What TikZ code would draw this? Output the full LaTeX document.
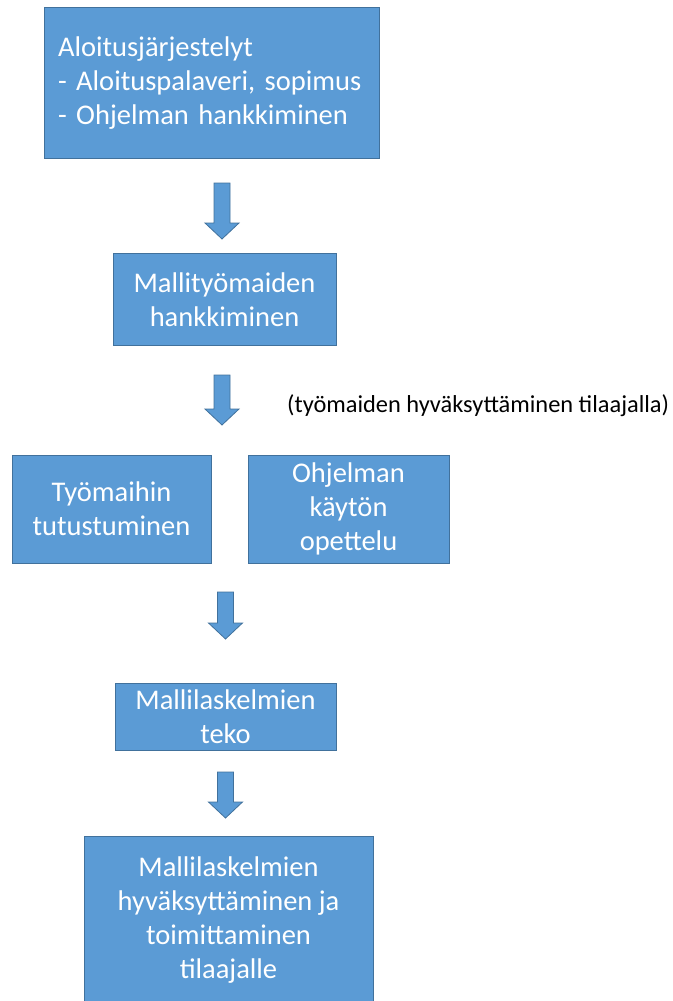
\documentclass[tikz,border=0pt]{standalone}
\usepackage{fontspec}
\setmainfont{Carlito}
\definecolor{boxfill}{HTML}{5B9BD5}
\definecolor{boxline}{HTML}{41719C}
\begin{document}
\begin{tikzpicture}[x=1pt,y=-1pt,
  box/.style={draw=boxline,line width=1pt,fill=boxfill,text=white,inner sep=0pt,
    font=\fontsize{28.5}{34}\selectfont,align=center},
  arrowshape/.style={draw=boxline,line width=0.8pt,fill=boxfill,line join=miter},
  downarr/.pic={
    \path[arrowshape] (-8,0) -- (8,0) -- (8,#1-16) -- (17,#1-16) -- (0,#1)
      -- (-17,#1-16) -- (-8,#1-16) -- cycle;
  }]
\useasboundingbox (0,0) rectangle (672,1001);
\clip (0,0) rectangle (672,1001);
\node[box,minimum width=335pt,minimum height=151pt,text width=307pt,align=left]
  (b1) at (211.5,83) {Aloitusjärjestelyt\\- Aloituspalaveri, sopimus\\- Ohjelman hankkiminen};
\pic (a1) at (222,183) {downarr=56};
\node[box,minimum width=223pt,minimum height=92pt] (b2) at (224.5,299.5) {Mallityömaiden\\hankkiminen};
\pic (a2) at (222,375) {downarr=50};
\node[font=\fontsize{24.4}{28}\selectfont,anchor=west,inner sep=0pt] (note) at (287,406) {(työmaiden hyväksyttäminen tilaajalla)};
\node[box,minimum width=199pt,minimum height=108pt] (b3a) at (111.5,509) {Työmaihin\\tutustuminen};
\node[box,minimum width=201pt,minimum height=108pt] (b3b) at (348.5,509) {Ohjelman\\käytön\\opettelu};
\pic (a3) at (225.5,592) {downarr=47};
\node[box,minimum width=221pt,minimum height=67pt] (b4) at (225.5,716.5) {Mallilaskelmien\\teko};
\pic (a4) at (225.5,772) {downarr=46};
\node[box,minimum width=289pt,minimum height=168pt] (b5) at (228.5,920) {Mallilaskelmien\\hyväksyttäminen ja\\toimittaminen\\tilaajalle};
\end{tikzpicture}
\end{document}
